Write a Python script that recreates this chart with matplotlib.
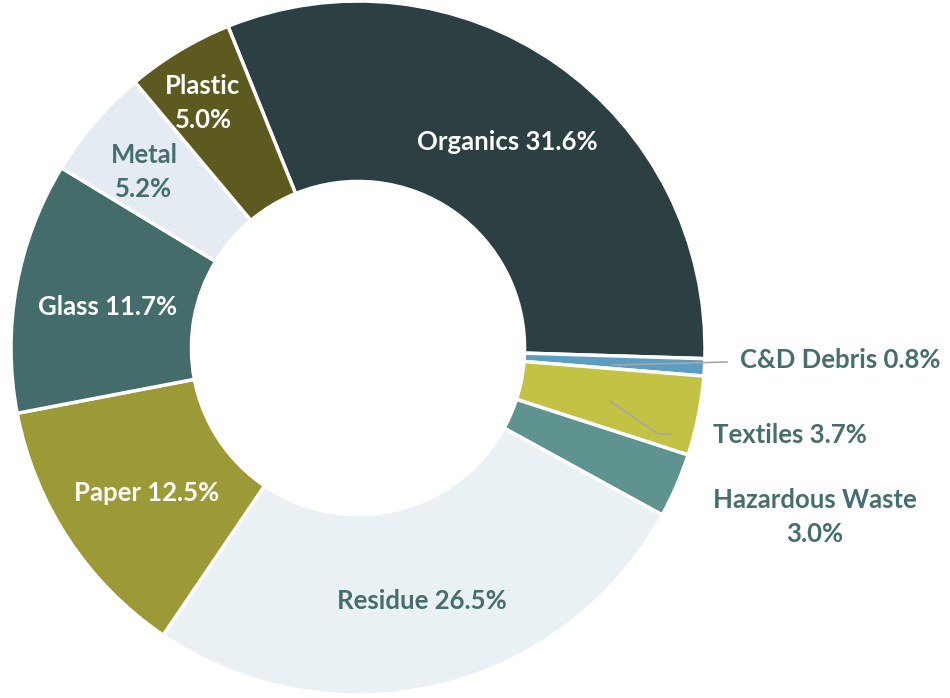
import matplotlib.pyplot as plt

# waste composition, clockwise from Organics
labels = ['Organics', 'C&D Debris', 'Textiles', 'Hazardous Waste', 'Residue',
          'Paper', 'Glass', 'Metal', 'Plastic']
shares = [31.6, 0.8, 3.7, 3.0, 26.5, 12.5, 11.7, 5.2, 5.0]
colors = ['#2C4043', '#5B9EC4', '#C4C244', '#5E9390', '#EAF1F4',
          '#9B9A37', '#436C6A', '#E4EBF2', '#5D5A1F']

plt.rcParams['font.family'] = ['Lato', 'DejaVu Sans']
teal = '#466E6C'

fig = plt.figure(figsize=(9.5, 6.98), dpi=100)
ax = fig.add_axes([11/950, 3/698, 694/950, 694/698])
ax.pie(shares, colors=colors, startangle=112, counterclock=False, radius=1,
       wedgeprops=dict(width=0.52, edgecolor='white', linewidth=2.5))
ax.set_xlim(-1, 1)
ax.set_ylim(-1, 1)
ax.set_aspect('equal')
ax.axis('off')

def px(x, y):
    return (x - 358) / 347, (348 - y) / 347

# label text, position, colour
label_pos = {
    'Organics': ((507, 142), 'white'),
    'C&D Debris': ((840, 360), teal),
    'Textiles': ((790, 435), teal),
    'Hazardous Waste': ((815, 517), teal),
    'Residue': ((422, 601), teal),
    'Paper': ((147, 493), 'white'),
    'Glass': ((108, 307), 'white'),
    'Metal': ((144, 172), teal),
    'Plastic': ((203, 103), 'white'),
}
two_line = ['Hazardous Waste', 'Metal', 'Plastic']
for name, val in zip(labels, shares):
    (x, y), c = label_pos[name]
    sep = '\n' if name in two_line else ' '
    ax.text(*px(x, y), f'{name}{sep}{val:.1f}%', ha='center', va='center',
            color=c, fontsize=18.5, fontweight='bold', linespacing=1.5,
            clip_on=False)

# leader lines
lx, ly = zip(px(613, 365), px(727, 362))
ax.plot(lx, ly, color='#A6A6A6', lw=1.2, clip_on=False)
lx, ly = zip(px(610, 401), px(658, 434), px(671, 434))
ax.plot(lx, ly, color='#A6A6A6', lw=1.2, clip_on=False)

fig.savefig('out.png', dpi=100)
